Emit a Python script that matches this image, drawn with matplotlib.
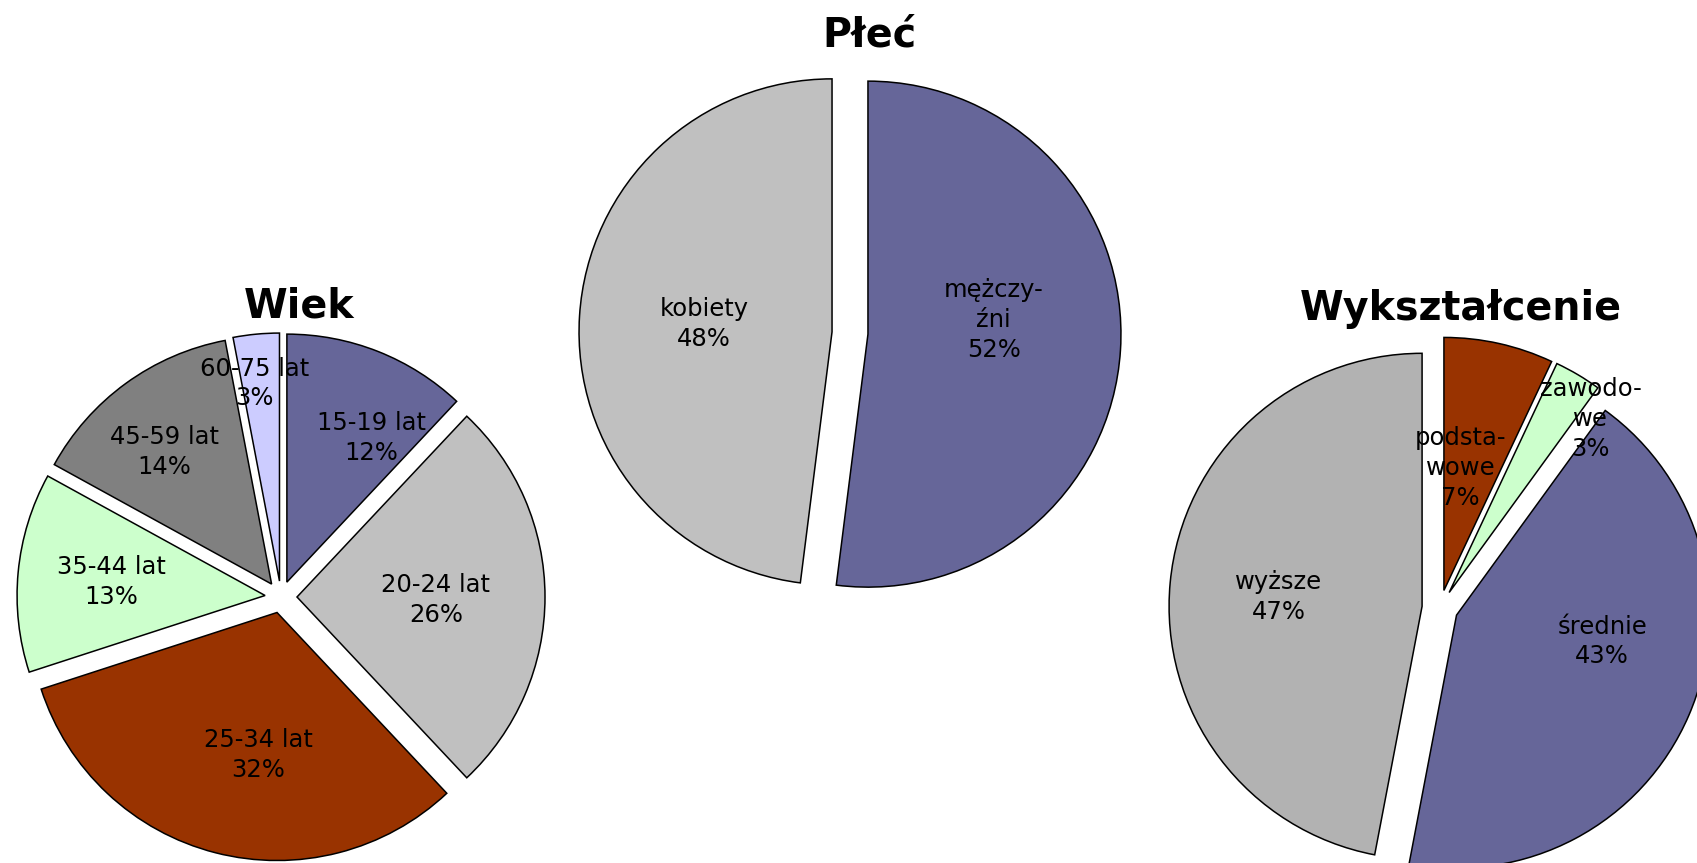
import numpy as np
import matplotlib.pyplot as plt

plt.rcParams['font.family'] = ['DejaVu Sans']

# age groups
wiek_names = ['15-19 lat', '20-24 lat', '25-34 lat', '35-44 lat', '45-59 lat', '60-75 lat']
wiek_values = [12, 26, 32, 13, 14, 3]
wiek_colors = ['#666699', '#C0C0C0', '#993300', '#CCFFCC', '#808080', '#CCCCFF']

# sex
plec_names = ['mężczy-\nźni', 'kobiety']
plec_values = [52, 48]
plec_colors = ['#666699', '#C0C0C0']

# education
wyk_names = ['podsta-\nwowe', 'zawodo-\nwe', 'średnie', 'wyższe']
wyk_values = [7, 3, 43, 47]
wyk_colors = ['#993300', '#CCFFCC', '#666699', '#B2B2B2']

W, H = 1697, 863
fig = plt.figure(figsize=(W / 100, H / 100), dpi=100)
ax = fig.add_axes([0, 0, 1, 1])


def draw_pie(values, names, colors, center, radius, gap, title, title_xy, lbl_r, lbl_turn):
    wedges, _ = ax.pie(values, colors=colors, center=center, radius=radius,
                       explode=[gap] * len(values), startangle=90, counterclock=False,
                       wedgeprops=dict(edgecolor='black', linewidth=1.1), frame=True)
    # labels placed along each wedge's middle angle
    for w, name, v, f, turn in zip(wedges, names, values, lbl_r, lbl_turn):
        mid = np.deg2rad((w.theta1 + w.theta2) / 2 + turn)
        ax.text(center[0] + f * radius * np.cos(mid), center[1] + f * radius * np.sin(mid),
                f'{name}\n{v}%', ha='center', va='center', fontsize=17.5, linespacing=1.3)
    ax.text(title_xy[0], title_xy[1], title, ha='center', va='center',
            fontsize=28.5, fontweight='bold')


draw_pie(wiek_values, wiek_names, wiek_colors, (281, 266), 248, 16, 'Wiek', (299, 557),
         [0.738, 0.625, 0.644, 0.688, 0.751, 0.867], [-7.9, -1.2, 6.2, 0.3, 2.9, 1.6])
draw_pie(plec_values, plec_names, plec_colors, (850, 530), 253, 18, 'Płeć', (869, 827),
         [0.57, 0.578], [8.8, 0.2])
draw_pie(wyk_values, wyk_names, wyk_colors, (1440, 255), 253, 18, 'Wykształcenie', (1461, 554),
         [0.56, 0.955, 0.655, 0.638], [4.3, -7.9, 11.7, 1.6])

ax.set_xlim(0, W)
ax.set_ylim(0, H)
ax.set_aspect('equal')
ax.axis('off')

fig.savefig('out.png', dpi=100)
